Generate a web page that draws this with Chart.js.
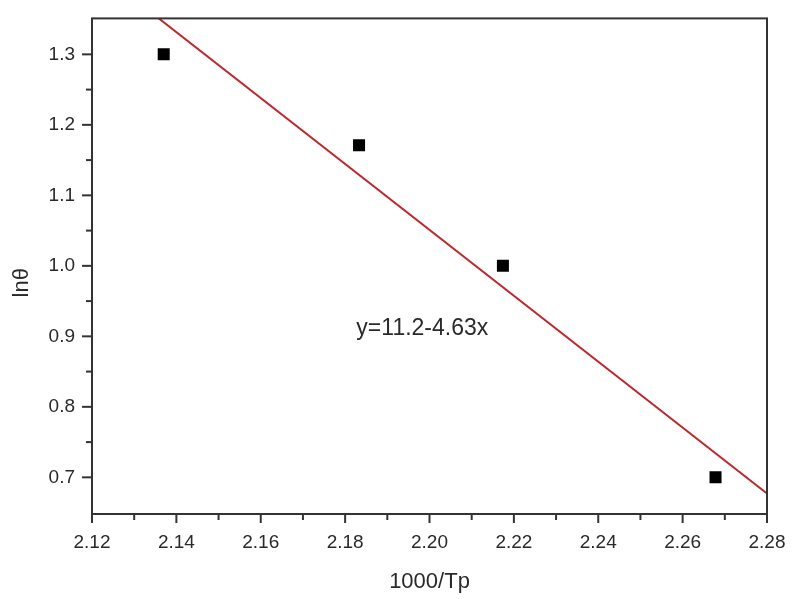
<!DOCTYPE html>
<html>
<head>
<meta charset="utf-8">
<script src="https://cdn.jsdelivr.net/npm/chart.js@4.4.1/dist/chart.umd.min.js"></script>
<style>
  html, body { margin: 0; padding: 0; background: #fff; }
  #wrap { width: 800px; height: 599px; }
</style>
</head>
<body>
<div id="wrap"><canvas id="arrhenius"></canvas></div>
<script>
// measured points (1000/Tp, ln theta)
const pointX = [2.137, 2.1833, 2.2174, 2.2678];
const pointY = [1.30, 1.171, 1.00, 0.70];

// fitted line endpoints as drawn on the figure
const fitX = [2.12, 2.28];
const fitY = [1.425, 0.677];
const fitLabel = 'y=11.2-4.63x';

// tick positions, labels on every second one
const xTicks = [2.12, 2.13, 2.14, 2.15, 2.16, 2.17, 2.18, 2.19, 2.20, 2.21, 2.22, 2.23, 2.24, 2.25, 2.26, 2.27, 2.28];
const xLabels = ['2.12', '', '2.14', '', '2.16', '', '2.18', '', '2.20', '', '2.22', '', '2.24', '', '2.26', '', '2.28'];
const yTicks = [0.70, 0.75, 0.80, 0.85, 0.90, 0.95, 1.00, 1.05, 1.10, 1.15, 1.20, 1.25, 1.30];
const yLabels = ['0.7', '', '0.8', '', '0.9', '', '1.0', '', '1.1', '', '1.2', '', '1.3'];

const textColor = '#2a2a2a';
const axisColor = '#333333';
const fontFamily = '"Liberation Sans", Arial, sans-serif';

// draws the frame, tick marks, y title and the equation text
const framePlugin = {
    id: 'frame',
    afterDraw(chart) {
        const { ctx, chartArea: a, scales } = chart;
        ctx.save();
        ctx.strokeStyle = axisColor;
        ctx.lineWidth = 2;
        ctx.strokeRect(a.left, a.top, a.right - a.left, a.bottom - a.top);

        // x ticks (outward, below axis)
        xTicks.forEach((v, i) => {
            const px = scales.x.getPixelForValue(v);
            const len = xLabels[i] ? 9 : 6;
            ctx.beginPath();
            ctx.moveTo(px, a.bottom);
            ctx.lineTo(px, a.bottom + len);
            ctx.stroke();
        });
        // y ticks (outward, left of axis)
        yTicks.forEach((v, i) => {
            const py = scales.y.getPixelForValue(v);
            const len = yLabels[i] ? 10 : 6;
            ctx.beginPath();
            ctx.moveTo(a.left, py);
            ctx.lineTo(a.left - len, py);
            ctx.stroke();
        });

        ctx.fillStyle = textColor;
        ctx.textAlign = 'center';
        ctx.textBaseline = 'middle';

        // y axis title, sits a bit below the middle in the original
        ctx.save();
        ctx.translate(22, scales.y.getPixelForValue(0.976));
        ctx.rotate(-Math.PI / 2);
        ctx.font = '22px ' + fontFamily;
        ctx.fillText('lnθ', 0, 0);
        ctx.restore();

        // equation label
        ctx.font = '23px ' + fontFamily;
        ctx.fillText(fitLabel, scales.x.getPixelForValue(2.1983), scales.y.getPixelForValue(0.911));
        ctx.restore();
    }
};

new Chart(document.getElementById('arrhenius'), {
    type: 'scatter',
    data: {
        datasets: [
            {
                label: 'fit',
                type: 'line',
                data: fitX.map((x, i) => ({ x: x, y: fitY[i] })),
                borderColor: '#c0272d',
                borderWidth: 2,
                pointRadius: 0,
                fill: false,
                order: 2
            },
            {
                label: 'data',
                data: pointX.map((x, i) => ({ x: x, y: pointY[i] })),
                pointStyle: 'rect',
                pointRadius: 8.5,
                pointHoverRadius: 8.5,
                backgroundColor: '#000',
                borderColor: '#000',
                borderWidth: 0,
                order: 1
            }
        ]
    },
    options: {
        responsive: true,
        maintainAspectRatio: false,
        animation: false,
        events: [],
        layout: { padding: { top: 16, right: 33, left: 0, bottom: 0 } },
        plugins: {
            legend: { display: false },
            tooltip: { enabled: false }
        },
        scales: {
            x: {
                type: 'linear',
                min: 2.12,
                max: 2.28,
                afterBuildTicks: (scale) => { scale.ticks = xTicks.map(v => ({ value: v })); },
                afterFit: (scale) => { scale.height = 85; },
                border: { display: false },
                grid: { drawOnChartArea: false, tickLength: 10, tickColor: 'rgba(0,0,0,0)' },
                ticks: {
                    autoSkip: false,
                    maxRotation: 0,
                    padding: 7,
                    color: textColor,
                    font: { family: fontFamily, size: 19 },
                    callback: (v, i) => xLabels[i]
                },
                title: {
                    display: true,
                    text: '1000/Tp',
                    color: textColor,
                    font: { family: fontFamily, size: 22 },
                    padding: { top: 0 }
                }
            },
            y: {
                type: 'linear',
                min: 0.648,
                max: 1.351,
                afterBuildTicks: (scale) => { scale.ticks = yTicks.map(v => ({ value: v })); },
                afterFit: (scale) => { scale.width = 92; },
                border: { display: false },
                grid: { drawOnChartArea: false, tickLength: 10, tickColor: 'rgba(0,0,0,0)' },
                ticks: {
                    autoSkip: false,
                    padding: 7,
                    color: textColor,
                    font: { family: fontFamily, size: 19 },
                    callback: (v, i) => yLabels[i]
                }
            }
        }
    },
    plugins: [framePlugin]
});
</script>
</body>
</html>
